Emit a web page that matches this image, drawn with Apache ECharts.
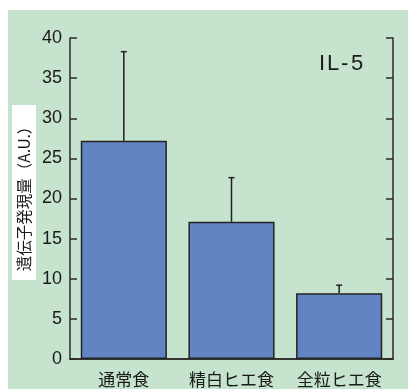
<!DOCTYPE html>
<html>
<head>
<meta charset="utf-8">
<script src="https://cdn.jsdelivr.net/npm/echarts@6/dist/echarts.min.js"></script>
<style>
  html, body { margin: 0; padding: 0; background: #ffffff; }
  #chart { width: 408px; height: 389px; }
</style>
</head>
<body>
<div id="chart"></div>
<script>
// Diet groups and IL-5 gene expression (mean and upper error)
var categories = ['通常食', '精白ヒエ食', '全粒ヒエ食'];
var meanValues = [27.2, 17.1, 8.2];
var upperValues = [38.3, 22.6, 9.2];
var yTicks = [0, 5, 10, 15, 20, 25, 30, 35, 40];
var panelTitle = 'IL-5';

var chart = echarts.init(document.getElementById('chart'), null, { renderer: 'canvas' });

var errData = categories.map(function (c, i) { return [i, meanValues[i], upperValues[i]]; });

var axisColor = '#2a2a2a';
var textColor = '#1a1a1a';

// Panel title is laid out glyph by glyph to get its wide letter spacing
var titleX = [319, 327, 341, 351];
var titleGlyphs = panelTitle.split('').map(function (ch, i) {
  return {
    type: 'text', z: 6, x: titleX[i], y: 53,
    style: { text: ch, fill: textColor, font: '22px "Liberation Sans"', verticalAlign: 'top' }
  };
});

chart.setOption({
  animation: false,
  backgroundColor: '#ffffff',
  graphic: [
    { type: 'rect', z: -10, shape: { x: 8, y: 10, width: 400, height: 379 }, style: { fill: '#c5e3cd' } },
    { type: 'rect', z: 5, shape: { x: 12, y: 105, width: 24, height: 175 }, style: { fill: '#ffffff' } },
    {
      type: 'text', z: 6, x: 24, y: 195, rotation: Math.PI / 2,
      style: {
        text: '遺伝子発現量（A.U.）', fill: textColor,
        font: '15.5px "Noto Sans CJK JP"', align: 'center', verticalAlign: 'middle'
      }
    }
  ].concat(titleGlyphs),
  grid: { left: 70, top: 38, right: 15, bottom: 30 },
  xAxis: [
    {
      type: 'category', data: categories, position: 'bottom',
      axisLine: { lineStyle: { color: axisColor, width: 1.5 } },
      axisTick: { show: false },
      axisLabel: { color: textColor, fontSize: 17, margin: 12, interval: 0, fontFamily: '"Noto Sans CJK JP"' }
    },
    {
      type: 'category', data: categories, position: 'top',
      axisLine: { show: true, lineStyle: { color: axisColor, width: 1.5 } },
      axisTick: { show: false }, axisLabel: { show: false }
    }
  ],
  yAxis: [
    {
      type: 'value', min: 0, max: 40, interval: 5, position: 'left',
      axisLine: { show: true, lineStyle: { color: axisColor, width: 1.5 } },
      axisTick: { show: true, inside: true, length: 7, lineStyle: { color: axisColor, width: 1.5 } },
      axisLabel: {
        color: textColor, fontSize: 18, margin: 8, fontFamily: '"Liberation Sans Narrow", "Liberation Sans"',
        formatter: function (v) { return yTicks.indexOf(v) >= 0 ? String(v) : ''; }
      },
      splitLine: { show: false }
    },
    {
      type: 'value', min: 0, max: 40, interval: 5, position: 'right',
      axisLine: { show: true, lineStyle: { color: axisColor, width: 1.5 } },
      axisTick: { show: true, inside: true, length: 7, lineStyle: { color: axisColor, width: 1.5 } },
      axisLabel: { show: false },
      splitLine: { show: false }
    }
  ],
  series: [
    {
      type: 'bar', data: meanValues, barWidth: '80%', xAxisIndex: 0, yAxisIndex: 0,
      itemStyle: { color: '#6384c2', borderColor: '#222222', borderWidth: 1.5 },
      z: 2
    },
    {
      type: 'custom', data: errData, xAxisIndex: 0, yAxisIndex: 0, z: 3,
      renderItem: function (params, api) {
        var base = api.coord([api.value(0), api.value(1)]);
        var top = api.coord([api.value(0), api.value(2)]);
        var style = { stroke: '#222222', lineWidth: 1.5 };
        return {
          type: 'group',
          children: [
            { type: 'line', shape: { x1: base[0], y1: base[1], x2: top[0], y2: top[1] }, style: style },
            { type: 'line', shape: { x1: top[0] - 3, y1: top[1], x2: top[0] + 3, y2: top[1] }, style: style }
          ]
        };
      }
    }
  ]
});
</script>
</body>
</html>
